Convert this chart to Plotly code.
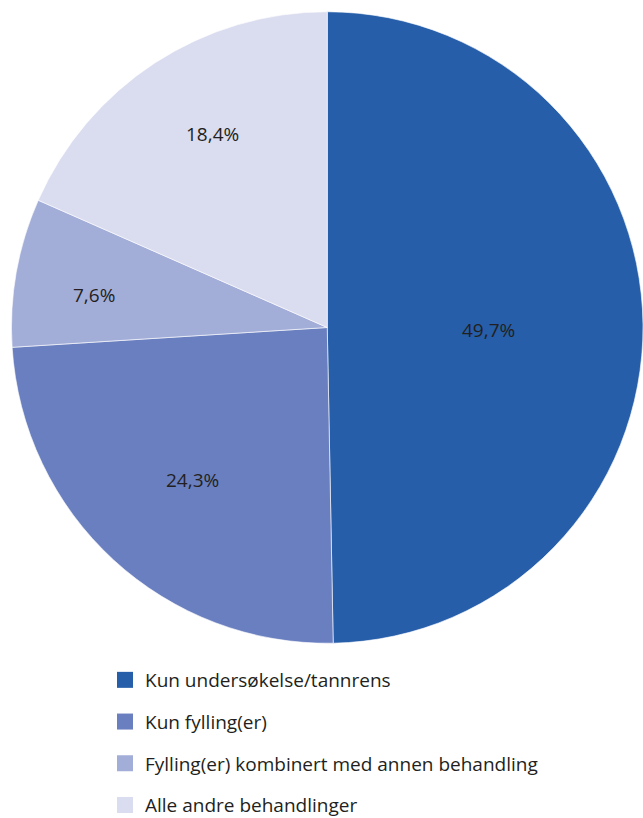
import math
import plotly.graph_objects as go

labels = ["Kun undersøkelse/tannrens", "Kun fylling(er)",
          "Fylling(er) kombinert med annen behandling", "Alle andre behandlinger"]
values = [49.7, 24.3, 7.6, 18.4]
colors = ["#265EA9", "#6A7FC0", "#A3AED8", "#DADCEF"]

W, H = 643, 818
cx, cy, R = 327.5, 327.5, 316.0  # pixel centre/radius of pie
label_r = [0.508, 0.645, 0.746, 0.712]      # radial fraction of label position
label_da = [-1.4, 1.3, 2.1, -2.4]           # small angular nudges (deg)
font_fam = "Open Sans"
txt_col = "#231F20"

fig = go.Figure()
fig.add_trace(go.Pie(
    labels=labels, values=values, sort=False, direction="clockwise", rotation=0,
    marker=dict(colors=colors, line=dict(color="white", width=0.6)),
    textinfo="none", hoverinfo="label+percent", showlegend=False,
    domain=dict(x=[(cx - R) / W, min(1.0, (cx + R) / W)],
                y=[(H - (cy + R)) / H, (H - (cy - R)) / H]),
))

# labels inside slices, placed along each slice's bisector
total = sum(values)
cum = 0.0
for v, f, da in zip(values, label_r, label_da):
    mid = (cum + v / 2) / total
    cum += v
    ang = math.radians(90 - 360 * mid + da)
    px = cx + R * f * math.cos(ang)
    py = cy - R * f * math.sin(ang)
    fig.add_annotation(x=px / W, y=1 - py / H, xref="paper", yref="paper",
                       xanchor="center", yanchor="middle",
                       text=f"{v:.1f}".replace(".", ",") + "%", showarrow=False,
                       font=dict(family=font_fam, size=19, color=txt_col))

# legend via dummy square markers
for i, (lab, col) in enumerate(zip(labels, colors)):
    fig.add_trace(go.Scatter(x=[None], y=[None], mode="markers", name=lab,
                             legendgroup=f"g{i}",
                             marker=dict(symbol="square", size=16, color=col)))

fig.update_layout(
    width=W, height=H, margin=dict(l=0, r=0, t=0, b=0, autoexpand=False),
    paper_bgcolor="white", plot_bgcolor="white",
    xaxis=dict(visible=False), yaxis=dict(visible=False),
    showlegend=True,
    legend=dict(x=105 / W, xanchor="left", y=1 - 661 / H, yanchor="top",
                font=dict(family=font_fam, size=19, color=txt_col),
                tracegroupgap=14, bgcolor="rgba(0,0,0,0)"),
)

fig.write_html("out.html")
